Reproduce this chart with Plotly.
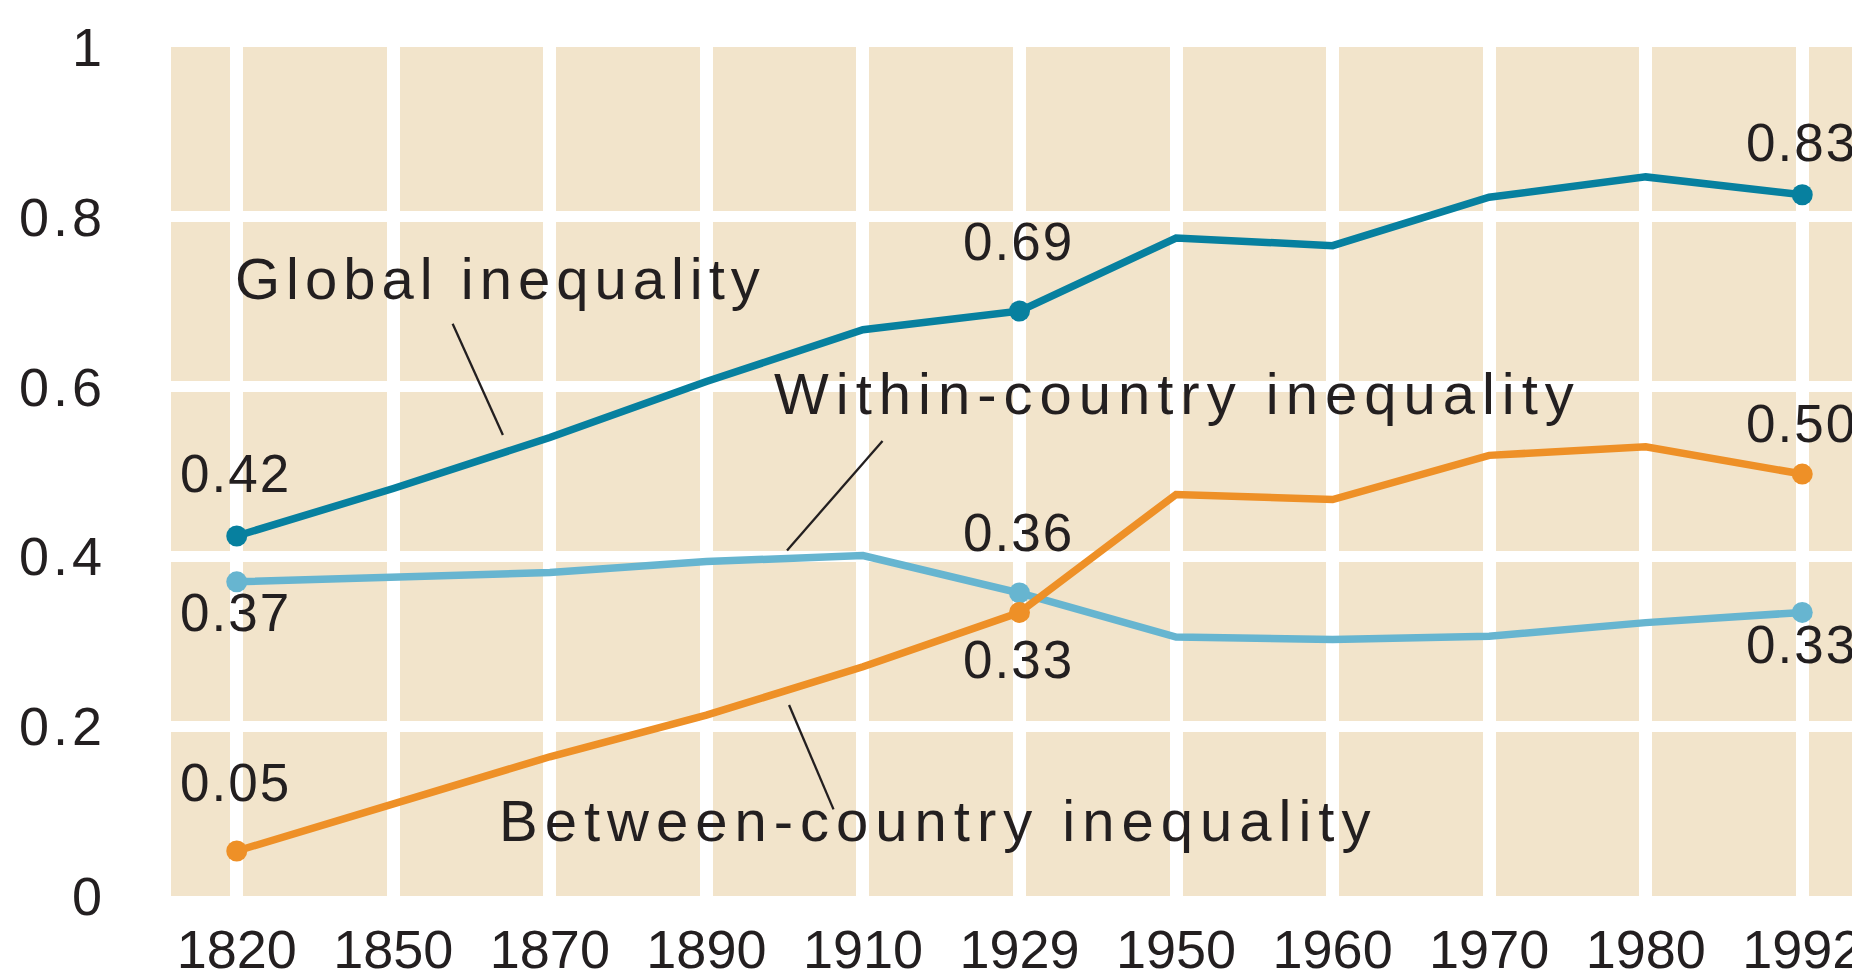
import plotly.graph_objects as go

# ---------------- data ----------------
years = ["1820", "1850", "1870", "1890", "1910", "1929", "1950", "1960", "1970", "1980", "1992"]
global_ineq = [0.424, 0.480, 0.540, 0.606, 0.667, 0.689, 0.775, 0.766, 0.823, 0.847, 0.826]
within_ineq = [0.370, 0.375, 0.381, 0.394, 0.401, 0.357, 0.305, 0.302, 0.306, 0.322, 0.334]
between_ineq = [0.053, 0.109, 0.164, 0.213, 0.270, 0.334, 0.473, 0.467, 0.519, 0.529, 0.497]
labelled_years = ["1820", "1929", "1992"]
y_ticks = [0, 0.2, 0.4, 0.6, 0.8, 1]
y_tick_text = ["0", "0.2", "0.4", "0.6", "0.8", "1"]
y_grid = [0.2, 0.4, 0.6, 0.8]
series_names = ["Global inequality", "Within-country inequality", "Between-country inequality"]

# ---------------- style ----------------
FONT = "Liberation Sans, Arial, sans-serif"
TEXT = "#231F20"
BG = "#F2E4CB"
COLORS = {"global": "#07809F", "within": "#67B5D0", "between": "#EE9027"}


def spaced(s, px):
    return f"<span style='letter-spacing:{px}px'>{s}</span>"


CAP_FIX = 9  # box centre vs. cap centre
series = [
    ("global", global_ineq, {"1820": 54, "1929": 61, "1992": 43}),
    ("within", within_ineq, {"1820": -40, "1929": 51, "1992": -41}),
    ("between", between_ineq, {"1820": 60, "1929": -56, "1992": 42}),
]

fig = go.Figure()
annotations = []
for key, vals, offs in series:
    fig.add_trace(go.Scatter(x=years, y=vals, mode="lines",
                             line=dict(color=COLORS[key], width=7.5),
                             hoverinfo="skip", showlegend=False))
    my = [vals[years.index(y)] for y in labelled_years]
    fig.add_trace(go.Scatter(x=labelled_years, y=my, mode="markers",
                             marker=dict(color=COLORS[key], size=21, line=dict(width=0)),
                             hoverinfo="skip", showlegend=False))
    for yr, v in zip(labelled_years, my):
        annotations.append(dict(x=years.index(yr), y=v, xref="x", yref="y", showarrow=False,
                                text=spaced(f"{v:.2f}", 2), xanchor="center", yanchor="middle",
                                xshift=-1, yshift=offs[yr] + CAP_FIX,
                                font=dict(family=FONT, size=53, color=TEXT)))

# dummy invisible trace so the label axis exists
fig.add_trace(go.Scatter(x=[years[0]], y=[0], yaxis="y2", mode="markers",
                         marker=dict(opacity=0), hoverinfo="skip", showlegend=False))

# series name labels
name_pos = [(-0.021, 0.716), (3.42, 0.580), (1.66, 0.077)]
name_spacing = [6, 7, 7]
for name, (nx, ny), sp in zip(series_names, name_pos, name_spacing):
    annotations.append(dict(x=nx, y=ny, xref="x", yref="y", showarrow=False,
                            text=spaced(name, sp), xanchor="left", yanchor="middle",
                            yshift=CAP_FIX + 1,
                            font=dict(family=FONT, size=58, color=TEXT)))

# leader lines
leaders = [((1.379, 0.674), (1.70, 0.543)),
           ((4.125, 0.536), (3.515, 0.407)),
           ((3.528, 0.225), (3.812, 0.102))]
shapes = []
for (x0, y0), (x1, y1) in leaders:
    shapes.append(dict(type="line", xref="x", yref="y", x0=x0, y0=y0, x1=x1, y1=y1,
                       line=dict(color=TEXT, width=2.3)))

fig.update_layout(
    width=1860, height=977,
    margin=dict(l=163, r=0, t=39, b=89, pad=0),
    paper_bgcolor="white", plot_bgcolor=BG,
    annotations=annotations, shapes=shapes,
    font=dict(family=FONT, color=TEXT),
    xaxis=dict(
        type="category", range=[-0.42, 10.42],
        tickvals=years, ticktext=years,
        showgrid=True, gridcolor="white", gridwidth=13,
        ticks="", showline=False, zeroline=False,
        tickfont=dict(family=FONT, size=54, color=TEXT),
        ticklabelstandoff=17,
    ),
    yaxis=dict(
        range=[0, 1], tickvals=y_grid, showticklabels=False,
        showgrid=True, gridcolor="white", gridwidth=10.5,
        ticks="", showline=False, zeroline=False,
    ),
    yaxis2=dict(
        range=[0, 1], overlaying="y", side="left", anchor="x",
        tickvals=y_ticks, ticktext=[spaced(t, 4) for t in y_tick_text],
        showgrid=False, ticks="", showline=False, zeroline=False,
        tickfont=dict(family=FONT, size=54, color=TEXT),
        ticklabelstandoff=64,
    ),
)

fig.write_html("out.html")
